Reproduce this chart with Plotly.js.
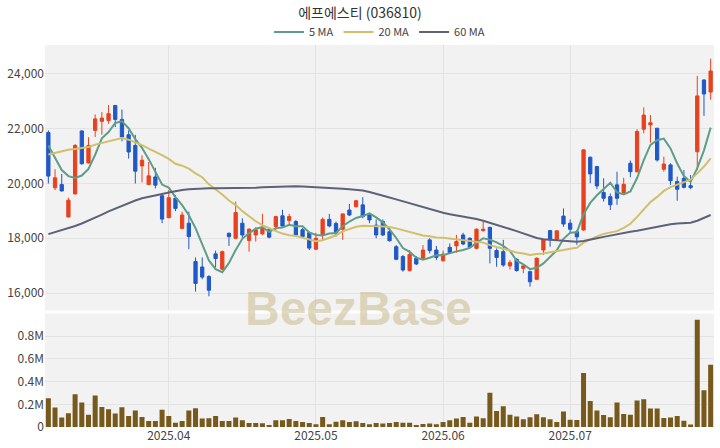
<!DOCTYPE html>
<html><head><meta charset="utf-8">
<script src="https://cdn.plot.ly/plotly-3.0.1.min.js"></script>
<style>html,body{margin:0;padding:0;background:#fff}#chart{width:720px;height:448px}</style>
</head><body><div id="chart"></div>
<script>
const dates = [
'2025-03-06','2025-03-07','2025-03-10','2025-03-11','2025-03-12','2025-03-13','2025-03-14','2025-03-17','2025-03-18','2025-03-19',
'2025-03-20','2025-03-21','2025-03-24','2025-03-25','2025-03-26','2025-03-27','2025-03-28','2025-03-31',
'2025-04-01','2025-04-02','2025-04-03','2025-04-04','2025-04-07','2025-04-08','2025-04-09','2025-04-10','2025-04-11','2025-04-14',
'2025-04-15','2025-04-16','2025-04-17','2025-04-18','2025-04-21','2025-04-22','2025-04-23','2025-04-24','2025-04-25','2025-04-28',
'2025-04-29','2025-04-30',
'2025-05-02','2025-05-07','2025-05-08','2025-05-09','2025-05-12','2025-05-13','2025-05-14','2025-05-15','2025-05-16','2025-05-19',
'2025-05-20','2025-05-21','2025-05-22','2025-05-23','2025-05-26','2025-05-27','2025-05-28','2025-05-29','2025-05-30',
'2025-06-02','2025-06-04','2025-06-05','2025-06-09','2025-06-10','2025-06-11','2025-06-12','2025-06-13','2025-06-16','2025-06-17',
'2025-06-18','2025-06-19','2025-06-20','2025-06-23','2025-06-24','2025-06-25','2025-06-26','2025-06-27','2025-06-30',
'2025-07-01','2025-07-02','2025-07-03','2025-07-04','2025-07-07','2025-07-08','2025-07-09','2025-07-10','2025-07-11','2025-07-14',
'2025-07-15','2025-07-16','2025-07-17','2025-07-18','2025-07-21','2025-07-22','2025-07-23','2025-07-24','2025-07-25','2025-07-28',
'2025-07-29','2025-07-30'];

const openP = [21860,19840,19960,18780,19620,21920,20750,21940,22270,22300,22850,22340,21780,21390,20640,19960,20240,19550,18750,19460,
18360,18550,17150,16950,16600,17430,16870,18180,18000,18550,17920,18120,18160,18310,18430,18820,18650,18610,18310,18210,
17600,18120,18690,18540,18330,19030,19150,19220,18850,18480,18610,18240,17690,17330,16820,17270,17270,17940,17570,17180,
17670,17720,18120,18000,17630,18280,18400,17550,17510,16990,17230,16900,16780,16500,17570,18280,17960,18810,18550,18240,
18300,20960,20620,19670,19520,19950,19670,20740,20430,21980,22140,22020,20520,20680,20070,20190,19920,21160,23780,23340];
const highP = [21940,20520,20350,19480,21440,21940,21690,22520,22610,22870,22870,22700,21940,21780,21030,20790,20570,19600,19760,19580,
18970,18970,17300,17300,16650,17550,17550,18210,19340,18730,18370,18400,18890,18370,18820,19040,18890,18670,18370,18240,
18200,18760,18890,18610,18890,19250,19400,19500,18910,18690,18690,18400,17750,17390,17570,17350,17750,18000,17720,17550,
17810,18120,18200,18030,18360,18610,18420,17630,17940,17200,17270,17020,16820,17300,17960,18300,18270,19090,18690,18300,
21230,20980,20640,20190,19640,20430,20210,20840,21980,22780,22500,22020,20980,20740,20250,20490,20310,23930,23810,24560];
const lowP = [20000,19760,19700,18750,19600,20690,20730,21700,21780,22180,22060,21540,20910,20000,20040,19940,19820,18550,18730,18990,
18330,17600,16050,16500,15880,16940,16840,17720,17960,18000,17510,17880,18120,18000,18240,18430,18450,18060,18040,17570,
17570,17940,18400,18060,17940,18810,19130,18730,18550,18000,18080,17880,17200,16780,16780,17020,17230,17450,17200,17140,
17450,17470,17750,17630,17600,18240,17080,16960,16960,16860,16780,16720,16230,16470,17390,17690,17940,18420,18180,17760,
18280,20010,19790,19340,19030,19220,19630,20230,20400,21830,21490,20800,20430,19950,19370,19820,19790,20490,22470,23060];
const closeP = [20270,20210,19730,19390,21390,20720,21390,22360,22390,22550,22340,21700,21150,20450,20850,20280,19940,18700,19480,19090,
18850,18060,16350,16580,16100,17260,17510,18060,18940,18120,18330,18310,18370,18040,18790,18450,18790,18120,18060,17640,
18000,18690,18450,18160,18890,18850,19370,18790,18670,18120,18120,17910,17230,16840,17410,17060,17570,17550,17300,17420,
17470,17880,17790,17670,18330,18330,17630,17300,17020,17110,16820,16990,16410,17270,17940,17940,18270,18520,18330,18050,
21230,20350,19910,19460,19220,19460,19970,20430,21900,22500,22220,20860,20710,20100,19790,19860,19850,23200,23270,24110];

const volume = [254000,171000,83000,121000,289000,215000,109000,277000,177000,156000,118000,174000,97000,145000,89000,53000,53000,151000,97000,38000,
53000,145000,165000,74000,77000,97000,53000,53000,83000,59000,35000,35000,32000,18000,59000,59000,71000,53000,44000,35000,
24000,89000,24000,47000,59000,44000,50000,35000,24000,35000,30000,35000,44000,38000,38000,18000,27000,30000,24000,44000,
59000,74000,89000,38000,92000,77000,301000,142000,183000,109000,92000,68000,86000,112000,86000,68000,44000,136000,65000,62000,
475000,230000,145000,106000,86000,215000,115000,109000,233000,245000,162000,162000,80000,83000,97000,56000,21000,945000,325000,549000];

const ma5 = [21390,20910,20490,20270,20200,20290,20530,21050,21650,21880,22210,22270,22020,21620,21300,20890,20430,19960,19850,19500,
19210,18840,18370,17790,17190,16870,16760,17100,17570,17980,18190,18350,18410,18230,18370,18390,18490,18440,18440,18210,
18120,18100,18170,18190,18440,18610,18740,18810,18910,18760,18580,18320,18010,17640,17500,17290,17220,17290,17380,17380,
17460,17520,17570,17650,17830,18000,17950,17850,17720,17540,17180,17050,16870,16920,17080,17310,17560,17980,18200,18220,
18880,19290,19570,19800,20030,19680,19600,19710,20200,20850,21410,21580,21640,21280,20730,20270,20060,20560,21210,22040];
const ma20 = [21060,21120,21180,21230,21260,21300,21330,21420,21480,21560,21620,21660,21600,21500,21400,21270,21160,21040,20900,20720,
20650,20540,20370,20230,19970,19790,19600,19380,19210,18990,18790,18620,18480,18360,18260,18170,18110,18080,18010,17940,
17890,17930,18030,18110,18250,18330,18420,18460,18440,18440,18430,18410,18360,18300,18230,18160,18100,18070,18030,18020,
17990,17950,17920,17900,17870,17840,17750,17680,17600,17550,17480,17440,17390,17420,17440,17490,17520,17570,17620,17650,
17840,17960,18070,18160,18200,18260,18380,18530,18780,19050,19320,19510,19730,19870,19960,20060,20140,20370,20620,20920];
const ma60 = [18150,18220,18290,18360,18450,18540,18640,18750,18860,18980,19080,19180,19290,19380,19460,19520,19570,19620,19670,19720,
19760,19790,19810,19820,19830,19830,19830,19820,19820,19820,19830,19840,19860,19870,19880,19890,19900,19900,19890,19880,
19870,19860,19850,19830,19810,19790,19770,19740,19690,19630,19570,19490,19420,19350,19280,19200,19120,19060,18990,18930,
18880,18840,18800,18760,18700,18640,18570,18500,18420,18340,18260,18170,18090,18010,17960,17940,17920,17900,17880,17870,
17900,17960,18000,18050,18100,18160,18200,18240,18270,18320,18380,18430,18470,18510,18540,18560,18570,18640,18750,18850];

const monthTickDates = ['2025-04-01','2025-05-02','2025-06-02','2025-07-01'];
const monthTickText = ['2025.04','2025.05','2025.06','2025.07'];
const priceTicks = [16000,18000,20000,22000,24000];
const volTicks = [0,200000,400000,600000,800000];
const volTickText = ['0','0.2M','0.4M','0.6M','0.8M'];

const UP = '#E8411E', DOWN = '#1F59C6';
const GRID = '#e3e3e3';
const FONT = 'Noto Sans CJK KR, Noto Sans, sans-serif';

const traces = [
  {type:'candlestick', x:dates, open:openP, high:highP, low:lowP, close:closeP,
   xaxis:'x', yaxis:'y', showlegend:false, hoverinfo:'skip',
   increasing:{line:{color:UP,width:1}, fillcolor:UP},
   decreasing:{line:{color:DOWN,width:1}, fillcolor:DOWN}},
  {type:'scatter', mode:'lines', x:dates, y:ma5, name:'5 MA', xaxis:'x', yaxis:'y',
   line:{color:'#5E9E89', width:2}, hoverinfo:'skip'},
  {type:'scatter', mode:'lines', x:dates, y:ma20, name:'20 MA', xaxis:'x', yaxis:'y',
   line:{color:'#D2BF6C', width:2}, hoverinfo:'skip'},
  {type:'scatter', mode:'lines', x:dates, y:ma60, name:'60 MA', xaxis:'x', yaxis:'y',
   line:{color:'#5C6279', width:2}, hoverinfo:'skip'},
  {type:'bar', x:dates, y:volume, xaxis:'x2', yaxis:'y2', showlegend:false,
   marker:{color:'#77591C'}, hoverinfo:'skip'}
];

const layout = {
  width:720, height:448,
  margin:{l:45, r:6, t:45, b:21},
  paper_bgcolor:'#ffffff', plot_bgcolor:'#f2f2f2',
  font:{family:FONT, size:12, color:'#444'},
  title:{text:'에프에스티 (036810)', x:0.5, xanchor:'center', y:0.971, yanchor:'middle',
         font:{family:FONT, size:14, color:'#333'}},
  showlegend:true,
  legend:{orientation:'h', x:0.5, xanchor:'center', y:1.034, yanchor:'middle',
          font:{family:FONT, size:11, color:'#444'}, bgcolor:'rgba(0,0,0,0)',
          borderwidth:0, itemwidth:30},
  hovermode:false,
  bargap:0.25,
  xaxis:{type:'category', anchor:'y', domain:[0,1], range:[-0.5, dates.length-0.5],
         rangeslider:{visible:false}, tickvals:monthTickDates, ticktext:monthTickText,
         showticklabels:false, showgrid:true, gridcolor:GRID, zeroline:false, ticks:'', showline:false},
  yaxis:{domain:[0.305,1], range:[15361,25059], tickvals:priceTicks, tickformat:',',
         showgrid:true, gridcolor:GRID, zeroline:false, ticks:'', showline:false},
  xaxis2:{type:'category', anchor:'y2', matches:'x', range:[-0.5, dates.length-0.5],
          tickvals:monthTickDates, ticktext:monthTickText, showticklabels:true,
          showgrid:true, gridcolor:GRID, zeroline:false, ticks:'', showline:false},
  yaxis2:{domain:[0,0.297], range:[0,1000000], tickvals:volTicks, ticktext:volTickText,
          showgrid:true, gridcolor:GRID, zeroline:false, ticks:'', showline:false},
  annotations:[{text:'<b>BeezBase</b>', xref:'paper', yref:'paper', x:0.468, y:0.309,
                xanchor:'center', yanchor:'middle', showarrow:false,
                font:{family:'Liberation Sans, Arial, sans-serif', size:48, color:'rgba(198,182,130,0.5)'}}]
};

Plotly.newPlot('chart', traces, layout, {displayModeBar:false, staticPlot:true});
</script>
</body></html>
